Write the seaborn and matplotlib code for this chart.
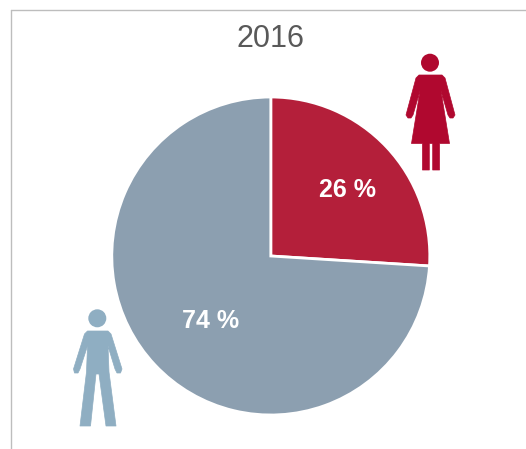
import matplotlib
matplotlib.use("Agg")
import matplotlib.pyplot as plt
from matplotlib.patches import Circle, Polygon
import seaborn as sns

# Share of each group, 2016
title = "2016"
groups = ["Women", "Men"]
shares = [26, 74]
pie_colors = ["#B41F3A", "#8C9FB0"]

W, H = 526, 449

sns.set_theme(style="white")
plt.rcParams["font.family"] = ["Liberation Sans", "DejaVu Sans"]

fig = plt.figure(figsize=(W / 100, H / 100), dpi=100, facecolor="white")
ax = fig.add_axes([0, 0, 1, 1])


def flip(points):
    # icon outlines were read in image pixels, y pointing down
    return [(x, H - y) for x, y in points]


def icon(head, outline, color):
    ax.add_patch(Circle((head[0], H - head[1]), head[2], color=color, lw=0, zorder=3))
    ax.add_patch(Polygon(flip(outline), closed=True, facecolor=color, edgecolor=color,
                         lw=0.5, joinstyle="round", zorder=3))


ax.pie(shares, colors=pie_colors, startangle=90, counterclock=False,
       center=(270.8, H - 256), radius=159,
       wedgeprops={"edgecolor": "white", "linewidth": 2})
ax.set_xlim(0, W)
ax.set_ylim(0, H)
ax.set_aspect("auto")
ax.axis("on")
ax.set_xticks([])
ax.set_yticks([])
for side in ax.spines.values():
    side.set_visible(False)

# thin frame, top and left only
ax.plot([10.5, W], [H - 9.8, H - 9.8], color="#BDBDBD", lw=1, zorder=1)
ax.plot([11, 11], [H - 10, 0], color="#BDBDBD", lw=1, zorder=1)

ax.text(271, H - 39, title, ha="center", va="center", fontsize=22, color="#595959")
ax.text(347.5, H - 190, f"{shares[0]} %", ha="center", va="center",
        fontsize=18, fontweight="bold", color="white", zorder=4)
ax.text(211, H - 321, f"{shares[1]} %", ha="center", va="center",
        fontsize=18, fontweight="bold", color="white", zorder=4)

woman = [(419, 75), (442, 75), (445, 78), (455, 115), (453, 118), (450, 118), (448, 115),
         (441, 91), (449.5, 143.5), (439.5, 143.5), (439.5, 170), (432.7, 170),
         (432.7, 143.5), (429.3, 143.5), (429.3, 170), (422.5, 170), (422.5, 143.5),
         (411.5, 143.5), (420, 91), (413, 115), (411, 118), (408, 118), (406, 115),
         (416, 78)]
man = [(87.5, 331), (108, 331), (111, 334), (122, 369), (120.5, 373), (117, 373), (115, 369),
       (108, 346), (109, 372), (116, 426), (106, 426), (99, 374), (96, 374),
       (90.5, 426), (80, 426), (86.5, 372), (87.5, 346), (80, 369), (78, 373), (74.5, 373),
       (73.5, 369), (84.5, 334)]
icon((430, 62.7, 9), woman, "#B0082F")
icon((97.3, 318.3, 9), man, "#8FAEC2")

fig.savefig("out.png", dpi=100)
